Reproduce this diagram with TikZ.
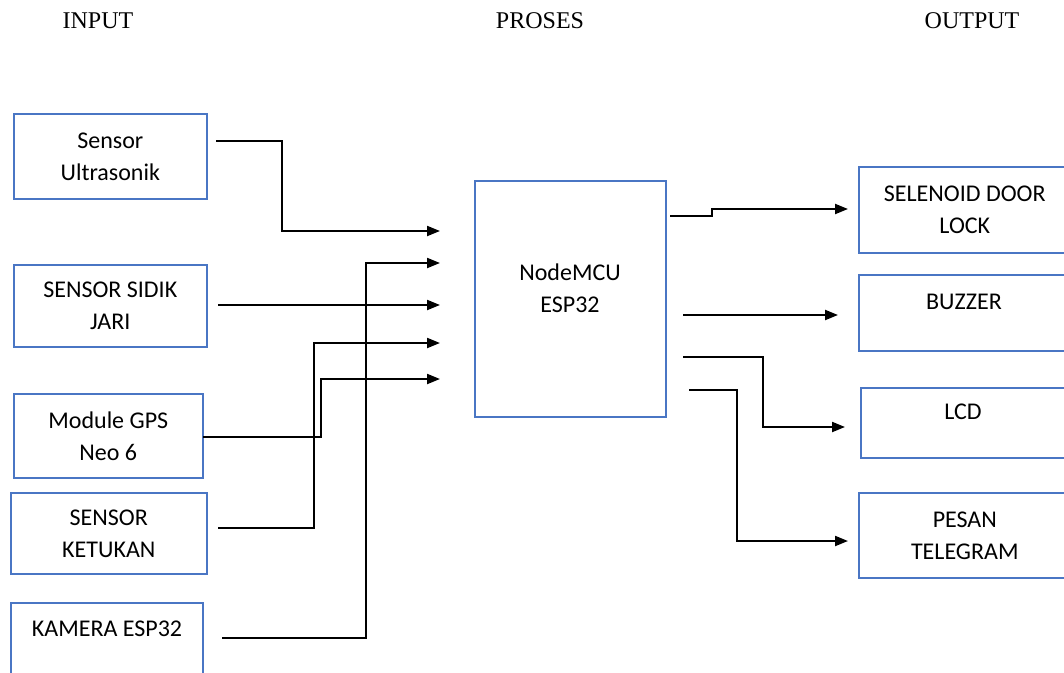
\documentclass[tikz,border=0pt]{standalone}
\usepackage{fontspec}
\setmainfont{Carlito}
\newfontfamily\hdrfont{Liberation Serif}
\usetikzlibrary{arrows.meta}
\definecolor{boxblue}{RGB}{74,118,196}
\begin{document}
\begin{tikzpicture}[x=1pt,y=-1pt,
  box/.style={draw=boxblue, line width=1.6pt, rectangle, anchor=north west, inner sep=0pt,
              font=\fontsize{24}{32}\selectfont, align=center},
  lbl/.style={font=\fontsize{24}{32}\selectfont, align=center, inner sep=0pt},
  hdr/.style={font=\hdrfont\fontsize{24}{28}\selectfont, inner sep=0pt},
  wire/.style={line width=2.1pt, -{Triangle[length=13pt,width=10pt]}}]
\useasboundingbox (0,0) rectangle (1064,672);
\clip (0,0) rectangle (1064,672);

% headers
\node[hdr] (hin)  at (98,21)  {INPUT};
\node[hdr] (hpro) at (540,21) {PROSES};
\node[hdr] (hout) at (972,21) {OUTPUT};

% input boxes
\node[box, minimum width=193pt, minimum height=85pt] (ultra)  at (13,113) {Sensor\\Ultrasonik};
\node[box, minimum width=193pt, minimum height=82pt] (sidik)  at (13,264) {SENSOR SIDIK\\JARI};
\node[box, minimum width=189pt, minimum height=84pt] (gps)    at (13,393) {Module GPS\\Neo 6};
\node[box, minimum width=196pt, minimum height=81pt] (ketuk)  at (10,492) {SENSOR\\KETUKAN};
\node[box, minimum width=192pt, minimum height=90pt] (kamera) at (10,602) {};
\node[lbl] (kameratxt) at (107,629) {KAMERA ESP32};

% process box
\node[box, minimum width=191pt, minimum height=236pt] (mcu) at (474,180) {};
\node[lbl] (mcutxt) at (570,288) {NodeMCU\\ESP32};

% output boxes
\node[box, minimum width=212pt, minimum height=86pt] (selenoid) at (858,166) {SELENOID DOOR\\LOCK};
\node[box, minimum width=212pt, minimum height=76pt] (buzzer)   at (858,274) {};
\node[lbl] (buzzertxt) at (964,302) {BUZZER};
\node[box, minimum width=210pt, minimum height=70pt] (lcd)      at (860,387) {};
\node[lbl] (lcdtxt) at (963,412) {LCD};
\node[box, minimum width=212pt, minimum height=85pt] (telegram) at (858,492) {PESAN\\TELEGRAM};

% connector coordinates
\coordinate (u0) at (216,141); \coordinate (ub) at (282,0);   \coordinate (in1) at (440,231);
\coordinate (c0) at (222,638); \coordinate (cb) at (366,0);   \coordinate (in2) at (440,263);
\coordinate (s0) at (218,305);                                \coordinate (in3) at (440,305);
\coordinate (t0) at (218,528); \coordinate (tb) at (314,0);   \coordinate (in4) at (440,343);
\coordinate (g0) at (203,437); \coordinate (gb) at (321,0);   \coordinate (in5) at (440,379);

\coordinate (o1) at (670,216); \coordinate (o1b) at (712,0);  \coordinate (e1) at (848,209);
\coordinate (o2) at (683,315);                                \coordinate (e2) at (838,315);
\coordinate (o3) at (683,357); \coordinate (o3b) at (763,0);  \coordinate (e3) at (845,427);
\coordinate (o4) at (689,390); \coordinate (o4b) at (737,0);  \coordinate (e4) at (848,541);

% input connectors
\draw[wire] (u0) -| (ub |- in1) -- (in1);
\draw[wire] (c0) -| (cb |- in2) -- (in2);
\draw[wire] (s0) -- (in3);
\draw[wire] (t0) -| (tb |- in4) -- (in4);
\draw[wire] (g0) -| (gb |- in5) -- (in5);

% output connectors
\draw[wire] (o1) -| (o1b |- e1) -- (e1);
\draw[wire] (o2) -- (e2);
\draw[wire] (o3) -| (o3b |- e3) -- (e3);
\draw[wire] (o4) -| (o4b |- e4) -- (e4);
\end{tikzpicture}
\end{document}
